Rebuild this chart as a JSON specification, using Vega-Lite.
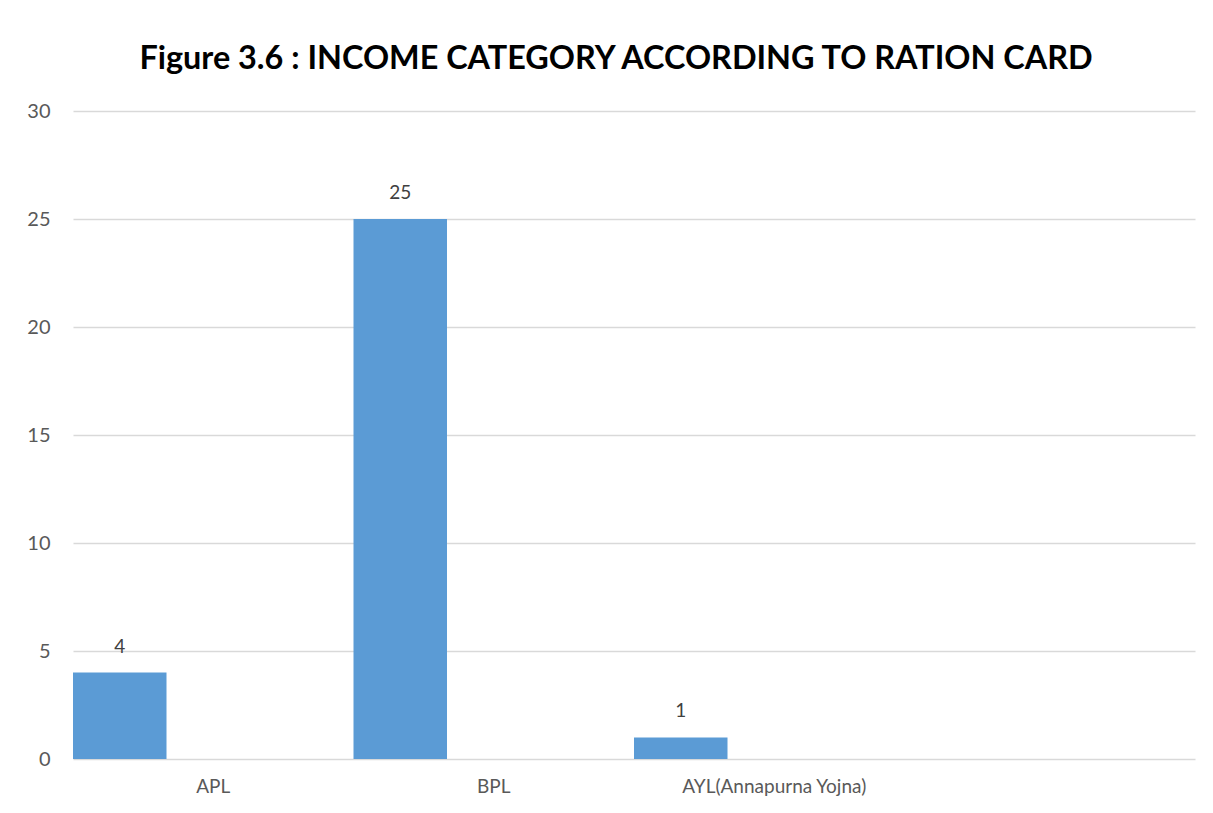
{
  "$schema": "https://vega.github.io/schema/vega-lite/v6.json",
  "width": 1122,
  "height": 648,
  "autosize": {"type": "none"},
  "padding": {"left": 73, "top": 111, "right": 18, "bottom": 54},
  "background": "white",
  "config": {
    "view": {"stroke": null},
    "font": "Lato"
  },
  "title": {
    "text": "Figure 3.6 : INCOME CATEGORY ACCORDING TO RATION CARD",
    "font": "Lato",
    "fontSize": 32.4,
    "fontWeight": "bold",
    "color": "#000000",
    "anchor": "middle",
    "dx": -18,
    "offset": 26
  },
  "data": {
    "values": [
      {"category": "APL", "series": "a", "value": 4},
      {"category": "BPL", "series": "a", "value": 25},
      {"category": "AYL(Annapurna Yojna)", "series": "a", "value": 1}
    ]
  },
  "encoding": {
    "x": {
      "field": "category",
      "type": "nominal",
      "sort": null,
      "scale": {"domain": ["APL", "BPL", "AYL(Annapurna Yojna)", " "], "paddingInner": 0, "paddingOuter": 0},
      "axis": {
        "title": null,
        "labelAngle": 0,
        "ticks": false,
        "domain": false,
        "labelFontSize": 19,
        "labelColor": "#595959",
        "labelPadding": 18,
        "labelLimit": 0,
        "labelFont": "Lato"
      }
    },
    "xOffset": {
      "field": "series",
      "type": "nominal",
      "scale": {"domain": ["a", "b", "c"], "paddingInner": 0, "paddingOuter": 0}
    },
    "y": {
      "field": "value",
      "type": "quantitative",
      "scale": {"domain": [0, 30], "nice": false},
      "axis": {
        "title": null,
        "values": [0, 5, 10, 15, 20, 25, 30],
        "ticks": false,
        "domain": false,
        "grid": true,
        "gridColor": "#D9D9D9",
        "gridWidth": 1.3,
        "labelFontSize": 20,
        "labelColor": "#595959",
        "labelPadding": 23,
        "labelFont": "Lato"
      }
    }
  },
  "layer": [
    {"mark": {"type": "bar", "color": "#5B9BD5"}},
    {
      "mark": {"type": "text", "baseline": "alphabetic", "dy": -20, "fontSize": 19, "color": "#404040", "font": "Lato"},
      "encoding": {"text": {"field": "value", "type": "quantitative"}}
    }
  ]
}
